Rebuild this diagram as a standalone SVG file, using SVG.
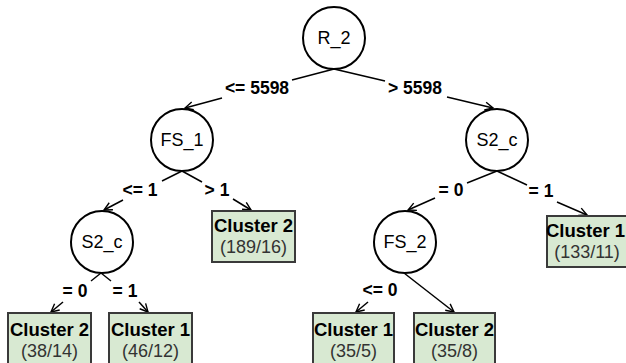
<svg xmlns="http://www.w3.org/2000/svg" width="626" height="363" viewBox="0 0 626 363">
  <defs>
    <marker id="arrow" markerUnits="userSpaceOnUse" markerWidth="12" markerHeight="12" refX="9" refY="5" orient="auto">
      <path d="M1,1 L9,5 L1,9" fill="none" stroke="#000" stroke-width="1.4"/>
    </marker>
    <style>
      .node circle { fill: #fff; stroke: #000; stroke-width: 2; }
      .node rect { fill: #d8e9d2; stroke: #3a3a3a; stroke-width: 2; }
      .name { font-family: "Liberation Sans", Arial, sans-serif; font-size: 18px; text-anchor: middle; fill: #000; }
      .title { font-family: "Liberation Sans", Arial, sans-serif; font-size: 18.5px; font-weight: bold; text-anchor: middle; fill: #000; }
      .count { font-family: "Liberation Sans", Arial, sans-serif; font-size: 18px; text-anchor: middle; fill: #333; }
      .edge line { stroke: #000; stroke-width: 1.5; fill: none; }
      .edge line.head { marker-end: url(#arrow); }
      .lbl { font-family: "Liberation Sans", Arial, sans-serif; font-size: 17.5px; font-weight: bold; text-anchor: middle; fill: #000; }
    </style>
  </defs>
  <rect width="626" height="363" fill="#fff"/>

  <!-- connectors -->
  <g id="connectors" class="edge">
    <!-- R_2 -->
    <line x1="334" y1="69" x2="292" y2="80"/>
    <line class="head" x1="222" y1="98" x2="185" y2="108"/>
    <text class="lbl" x="257" y="94">&lt;= 5598</text>
    <line x1="334" y1="69" x2="385" y2="81"/>
    <line class="head" x1="447" y1="97" x2="493" y2="108"/>
    <text class="lbl" x="415" y="94">&gt; 5598</text>

    <!-- FS_1 -->
    <line x1="182" y1="171" x2="162" y2="181"/>
    <line class="head" x1="123" y1="200" x2="104" y2="210"/>
    <text class="lbl" x="140" y="196">&lt;= 1</text>
    <line x1="182" y1="171" x2="202" y2="182"/>
    <line class="head" x1="233" y1="199" x2="251" y2="210"/>
    <text class="lbl" x="217" y="196">&gt; 1</text>

    <!-- S2_c (right) -->
    <line x1="497" y1="171" x2="467" y2="183"/>
    <line class="head" x1="435" y1="198" x2="408" y2="210"/>
    <text class="lbl" x="451" y="196">= 0</text>
    <line x1="497" y1="171" x2="527" y2="185"/>
    <line class="head" x1="557" y1="202" x2="587" y2="215"/>
    <text class="lbl" x="541" y="197">= 1</text>

    <!-- S2_c (left) -->
    <line x1="101" y1="273" x2="91" y2="281"/>
    <line class="head" x1="63" y1="302" x2="51" y2="312"/>
    <text class="lbl" x="75" y="297">= 0</text>
    <line x1="101" y1="273" x2="111" y2="281"/>
    <line class="head" x1="139" y1="302" x2="148" y2="312"/>
    <text class="lbl" x="125" y="297">= 1</text>

    <!-- FS_2 -->
    <line class="head" x1="368" y1="302" x2="356" y2="312"/>
    <text class="lbl" x="380" y="296">&lt;= 0</text>
    <line class="head" x1="404" y1="273" x2="454" y2="312"/>
  </g>

  <!-- decision nodes -->
  <g id="R_2" class="node">
    <circle cx="334" cy="38" r="31"/>
    <text class="name" x="334" y="44">R_2</text>
  </g>
  <g id="FS_1" class="node">
    <circle cx="182" cy="140" r="31"/>
    <text class="name" x="182" y="146">FS_1</text>
  </g>
  <g id="S2_c_right" class="node">
    <circle cx="497" cy="140" r="31"/>
    <text class="name" x="497" y="146">S2_c</text>
  </g>
  <g id="S2_c_left" class="node">
    <circle cx="102" cy="242" r="31"/>
    <text class="name" x="102" y="248">S2_c</text>
  </g>
  <g id="FS_2" class="node">
    <circle cx="405" cy="242" r="31"/>
    <text class="name" x="405" y="248">FS_2</text>
  </g>

  <!-- leaf nodes -->
  <g id="leaf_189_16" class="node">
    <rect x="212" y="211" width="83" height="51"/>
    <text class="title" x="253.5" y="232">Cluster 2</text>
    <text class="count" x="253.5" y="253">(189/16)</text>
  </g>
  <g id="leaf_133_11" class="node">
    <rect x="547" y="216" width="83" height="51"/>
    <text class="title" x="585.5" y="237">Cluster 1</text>
    <text class="count" x="587" y="258">(133/11)</text>
  </g>
  <g id="leaf_38_14" class="node">
    <rect x="8" y="313" width="83" height="55"/>
    <text class="title" x="49.5" y="336">Cluster 2</text>
    <text class="count" x="49.5" y="357">(38/14)</text>
  </g>
  <g id="leaf_46_12" class="node">
    <rect x="109" y="313" width="83" height="55"/>
    <text class="title" x="150.5" y="336">Cluster 1</text>
    <text class="count" x="150.5" y="357">(46/12)</text>
  </g>
  <g id="leaf_35_5" class="node">
    <rect x="313" y="313" width="81" height="55"/>
    <text class="title" x="353.5" y="336">Cluster 1</text>
    <text class="count" x="353.5" y="357">(35/5)</text>
  </g>
  <g id="leaf_35_8" class="node">
    <rect x="414" y="313" width="81" height="55"/>
    <text class="title" x="454.5" y="336">Cluster 2</text>
    <text class="count" x="454.5" y="357">(35/8)</text>
  </g>
</svg>
